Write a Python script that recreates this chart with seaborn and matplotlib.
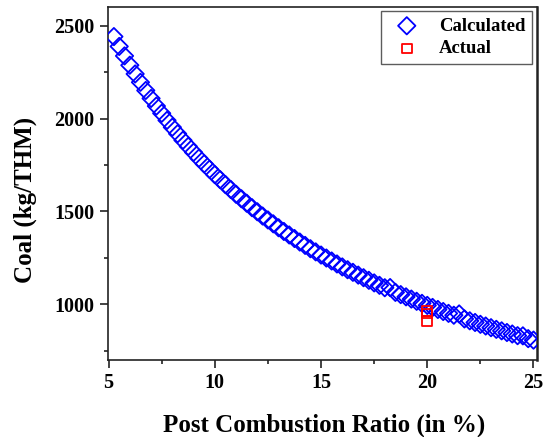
import matplotlib
matplotlib.use("Agg")
import matplotlib.pyplot as plt
import seaborn as sns
import pandas as pd
from matplotlib.ticker import MultipleLocator

# ---- data ----
calc_x = [5.25, 5.5, 5.75, 6.0, 6.25, 6.5, 6.75, 7.0, 7.25, 7.5,
          7.75, 8.0, 8.25, 8.5, 8.75, 9.0, 9.25, 9.5, 9.75, 10.0,
          10.25, 10.5, 10.75, 11.0, 11.25, 11.5, 11.75, 12.0, 12.25, 12.5,
          12.75, 13.0, 13.25, 13.5, 13.75, 14.0, 14.25, 14.5, 14.75, 15.0,
          15.25, 15.5, 15.75, 16.0, 16.25, 16.5, 16.75, 17.0, 17.25, 17.5,
          17.75, 18.0, 18.25, 18.5, 18.75, 19.0, 19.25, 19.5, 19.75, 20.0,
          20.25, 20.5, 20.75, 21.0, 21.25, 21.5, 21.75, 22.0, 22.25, 22.5,
          22.75, 23.0, 23.25, 23.5, 23.75, 24.0, 24.25, 24.5, 24.75, 25.0]
calc_y = [2441, 2388, 2337, 2287, 2240, 2195, 2151, 2108, 2067, 2028,
          1990, 1953, 1918, 1883, 1850, 1818, 1786, 1756, 1727, 1698,
          1671, 1644, 1618, 1592, 1568, 1544, 1520, 1498, 1475, 1454,
          1433, 1412, 1392, 1373, 1354, 1335, 1317, 1299, 1282, 1265,
          1249, 1233, 1217, 1201, 1186, 1172, 1157, 1143, 1129, 1115,
          1102, 1089, 1090, 1064, 1052, 1040, 1028, 1016, 1005, 994,
          983, 972, 961, 951, 941, 948, 921, 911, 902, 892,
          883, 874, 865, 857, 848, 840, 831, 830, 815, 807]
actual_x = [20.0, 20.0, 20.0]
actual_y = [965, 950, 910]

xticks = [5, 10, 15, 20, 25]
yticks = [1000, 1500, 2000, 2500]

sns.set_theme(style="white")
plt.rcParams['font.family'] = ['Liberation Serif', 'DejaVu Serif']
plt.rcParams['font.weight'] = 'bold'
for key in ['text.color', 'axes.labelcolor', 'xtick.color', 'ytick.color']:
    plt.rcParams[key] = 'black'

fig = plt.figure(figsize=(5.58, 4.37), dpi=100)
ax = fig.add_axes([0.1927, 0.1762, 0.7691, 0.8085])

calc = pd.DataFrame({"x": calc_x, "y": calc_y})
act = pd.DataFrame({"x": actual_x, "y": actual_y})

sns.scatterplot(data=calc, x="x", y="y", ax=ax, marker="D", s=78,
                facecolor="none", edgecolor="#0000FF", linewidth=1.3,
                label="Calculated", zorder=3)
sns.scatterplot(data=act, x="x", y="y", ax=ax, marker="s", s=48,
                facecolor="none", edgecolor="#FF0000", linewidth=1.3,
                label="Actual", zorder=4)

ax.set_xlim(4.95, 25.15)
ax.set_ylim(700, 2602)
ax.set_xticks(xticks)
ax.set_yticks(yticks)
ax.xaxis.set_minor_locator(MultipleLocator(2.5))
ax.yaxis.set_minor_locator(MultipleLocator(250))
ax.tick_params(axis='both', which='major', direction='out', length=6, width=1.2,
               labelsize=14.5, pad=3.5, color='#222222', labelcolor='black')
ax.tick_params(axis='both', which='minor', direction='out', length=3, width=1.2,
               color='#222222')
ax.tick_params(top=False, right=False, which='both')
ax.tick_params(bottom=True, left=True, which='both')
for lab in ax.get_xticklabels() + ax.get_yticklabels():
    lab.set_fontweight('bold')

for side in ['left', 'bottom', 'right', 'top']:
    ax.spines[side].set_color('#222222')
    ax.spines[side].set_linewidth(1.2)
ax.spines['right'].set_linewidth(1.8)

ax.set_xlabel("Post Combustion Ratio (in %)", fontsize=18, fontweight='bold')
ax.set_ylabel("Coal (kg/THM)", fontsize=18, fontweight='bold')
ax.xaxis.set_label_coords(0.504, -0.184)
ax.xaxis.label.set_va('center')
ax.yaxis.set_label_coords(-0.192, 0.453)
ax.yaxis.label.set_va('center')

leg = ax.legend(loc='upper right', bbox_to_anchor=(0.9884, 0.9878), borderaxespad=0,
                fontsize=13.5, frameon=True, fancybox=False, handletextpad=0.7,
                borderpad=0.35, labelspacing=0.3, handlelength=2.0)
leg.get_frame().set_edgecolor('#333333')
leg.get_frame().set_linewidth(1.0)
for t in leg.get_texts():
    t.set_fontweight('bold')
    t.set_color('black')

fig.savefig("out.png", dpi=100)
